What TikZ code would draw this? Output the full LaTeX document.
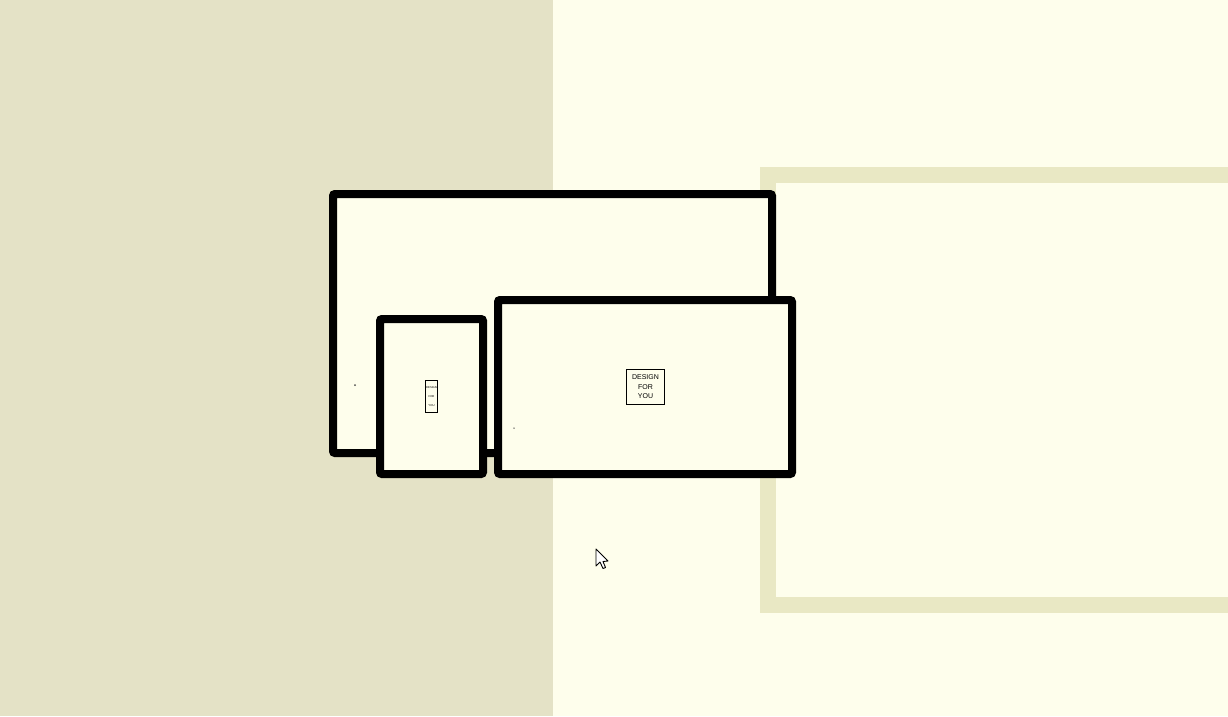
\documentclass[tikz,border=0pt]{standalone}
\usepackage{fontspec}
\setmainfont{Liberation Sans}
\definecolor{khaki}{HTML}{E4E2C6}
\definecolor{paleyel}{HTML}{FEFEEC}
\definecolor{framek}{HTML}{E9E8C4}
\tikzset{
  panel/.style={draw=black, line width=8pt, rounded corners=2pt, fill=paleyel, inner sep=0pt, anchor=north west},
  labelbox/.style={draw=black, line width=1.2pt, fill=paleyel, inner sep=0pt, align=center},
  speck/.style={fill=black!70, inner sep=0pt, minimum size=2pt, circle}
}
\begin{document}
\begin{tikzpicture}[x=1pt,y=-1pt]
\useasboundingbox (0,0) rectangle (1228,716);
% backgrounds
\fill[paleyel] (0,0) rectangle (1228,716);
\fill[khaki] (0,0) rectangle (553,716);
% light frame on the right
\draw[framek, line width=16pt] (1240,175) -- (768,175) -- (768,605) -- (1240,605);
% panels
\node[panel, minimum width=439pt, minimum height=259pt] (big) at (329,190) {};
\node[panel, minimum width=103pt, minimum height=155pt] (tall) at (376,315) {};
\node[panel, minimum width=294pt, minimum height=174pt] (wide) at (494,296) {};
% labels
\node[labelbox, minimum width=38pt, minimum height=35pt, font=\fontsize{7pt}{9.5pt}\selectfont] (lbl) at (645.5,387) {DESIGN\\FOR\\YOU};
\node[labelbox, line width=0.8pt, minimum width=12pt, minimum height=32pt, font=\fontsize{2.8pt}{9pt}\selectfont] (lblsmall) at (431.5,396.5) {DESIGN\\FOR\\YOU};
% specks
\node[speck] (s1) at (355,385) {};
\node[speck, minimum size=1.5pt] (s2) at (514,428) {};
% cursor
\draw[fill=white, line width=0.9pt, line join=round] (596,549) -- (596,566) -- (600,562) -- (603,568.5) -- (605.5,567.5) -- (603,561.5) -- (608,561) -- cycle;
\end{tikzpicture}
\end{document}
